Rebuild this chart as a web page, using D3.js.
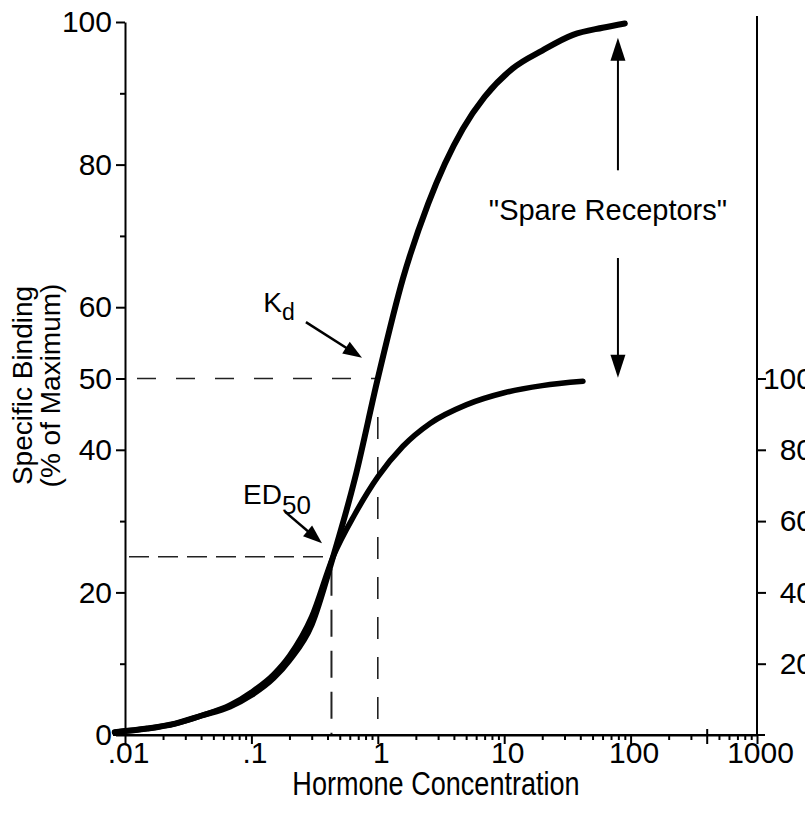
<!DOCTYPE html>
<html>
<head>
<meta charset="utf-8">
<script src="https://cdn.jsdelivr.net/npm/d3@7"></script>
<style>
  html, body { margin: 0; padding: 0; background: #fff; }
  svg { display: block; }
  text { font-family: "Liberation Sans", Arial, Helvetica, sans-serif; fill: #000; }
</style>
</head>
<body>
<script>
// ---------------- data ----------------
// Specific binding curve (% of maximum), Kd = 1
const bindingConc   = [0.0083, 0.015, 0.025, 0.04, 0.068, 0.1, 0.15, 0.2, 0.3, 0.443, 0.66, 1.0, 1.58, 2.5, 4.7, 7, 11.7, 20, 35, 60, 90];
const bindingValues = [0.4, 0.9, 1.6, 2.7, 4.0, 5.6, 8.0, 10.5, 15.5, 25, 36, 50, 64, 74.5, 85, 89.5, 93.5, 96, 98.2, 99.2, 99.8];

// Biological response curve (right axis, % of maximal response)
const responseConc   = [0.0083, 0.015, 0.025, 0.04, 0.068, 0.1, 0.15, 0.2, 0.3, 0.443, 0.66, 1.0, 1.58, 2.59, 5, 10, 20, 42];
const responseValues = [0.8, 1.8, 3.2, 5.4, 8.4, 12, 17.0, 22.2, 33.2, 50, 62, 72.4, 81, 87.4, 92.6, 96, 98, 99.2];

// axis ticks
const xTickValues = [0.01, 0.1, 1, 10, 100, 1000];
const xTickLabels = [".01", ".1", "1", "10", "100", "1000"];
const yTickValues = [0, 20, 40, 50, 60, 80, 100];
const yMinorTicks = [10, 30, 70, 90];
const rightTickValues = [20, 40, 60, 80, 100];

// reference markers
const kd = 1, kdLevel = 50;
const ed50 = 0.43, ed50Level = 25;

// ---------------- chart ----------------
const W = 805, H = 828;
const svg = d3.select("body").append("svg").attr("width", W).attr("height", H);
svg.append("rect").attr("width", W).attr("height", H).attr("fill", "#fff");

const x = d3.scaleLog().domain([0.01, 1000]).range([125, 757]);
const y = d3.scaleLinear().domain([0, 100]).range([735, 22]);
const yR = d3.scaleLinear().domain([0, 100]).range([y(0), y(50)]);

function narrow(sel, f) {
  sel.each(function () {
    const L = this.getComputedTextLength();
    this.setAttribute("textLength", L * f);
    this.setAttribute("lengthAdjust", "spacingAndGlyphs");
  });
}

// dashed reference lines
const dash = svg.append("g").attr("stroke", "#222").attr("fill", "none");
dash.append("line")
  .attr("x1", x(0.01)).attr("x2", x(kd)).attr("y1", y(kdLevel)).attr("y2", y(kdLevel))
  .attr("stroke-width", 1.6).attr("stroke-dasharray", "19,20").attr("stroke-dashoffset", -12);
dash.append("line")
  .attr("x1", x(kd)).attr("x2", x(kd)).attr("y1", y(44.6)).attr("y2", y(0))
  .attr("stroke-width", 1.6).attr("stroke-dasharray", "22,18");
dash.append("line")
  .attr("x1", x(0.01)).attr("x2", x(ed50)).attr("y1", y(ed50Level)).attr("y2", y(ed50Level))
  .attr("stroke-width", 1.6).attr("stroke-dasharray", "20,9").attr("stroke-dashoffset", -4);
dash.append("line")
  .attr("x1", x(ed50)).attr("x2", x(ed50)).attr("y1", y(ed50Level)).attr("y2", y(0))
  .attr("stroke-width", 2).attr("stroke-dasharray", "27,14").attr("stroke-dashoffset", -12);

// axes
const tickFont = 30;
function styleAxis(g) {
  g.selectAll(".domain").attr("stroke", "#000").attr("stroke-width", 2);
  g.selectAll(".tick line").attr("stroke", "#000").attr("stroke-width", 2);
  g.selectAll(".tick text").attr("font-size", tickFont).attr("font-family", "Liberation Sans, Arial, sans-serif").attr("fill", "#000");
}

// left axis
const gL = svg.append("g").attr("transform", `translate(${x(0.01)},0)`)
  .call(d3.axisLeft(y).tickValues(yTickValues).tickSize(9).tickSizeOuter(0).tickPadding(4));
styleAxis(gL);
const gLm = svg.append("g").attr("transform", `translate(${x(0.01)},0)`)
  .call(d3.axisLeft(y).tickValues(yMinorTicks).tickSize(5).tickFormat(""));
gLm.select(".domain").remove();
styleAxis(gLm);

// bottom axis
const gB = svg.append("g").attr("transform", `translate(0,${y(0)})`)
  .call(d3.axisBottom(x).tickValues(xTickValues).tickFormat((d, i) => xTickLabels[i]).tickSize(9).tickSizeOuter(0).tickPadding(-2));
styleAxis(gB);
gB.selectAll(".tick text").attr("dx", 3);
const minorX = [];
xTickValues.slice(0, -1).forEach(d => { for (let k = 2; k <= 9; k++) minorX.push(d * k); });
const gBm = svg.append("g").attr("transform", `translate(0,${y(0)})`)
  .call(d3.axisBottom(x).tickValues(minorX).tickSize(5).tickFormat(""));
gBm.select(".domain").remove();
styleAxis(gBm);
gBm.selectAll(".tick").filter(d => d === 400).select("line").attr("y1", -6).attr("y2", 9);
// axis line extensions
svg.append("line").attr("x1", x(0.01) - 12).attr("x2", x(1000) + 8)
  .attr("y1", y(0)).attr("y2", y(0)).attr("stroke", "#000").attr("stroke-width", 2);

// right axis
const gR = svg.append("g").attr("transform", `translate(${x(1000)},0)`)
  .call(d3.axisRight(yR).tickValues(rightTickValues).tickSize(9).tickSizeOuter(0));
gR.select(".domain").remove();
styleAxis(gR);
gR.selectAll(".tick text").attr("text-anchor", "end").attr("x", 56);
svg.append("line").attr("x1", x(1000)).attr("x2", x(1000))
  .attr("y1", y(100) - 6).attr("y2", y(0)).attr("stroke", "#000").attr("stroke-width", 2);

// curves
const line = d3.line().x(d => x(d[0])).y(d => d[1]).curve(d3.curveMonotoneX);
svg.append("path")
  .attr("d", line(responseConc.map((c, i) => [c, yR(responseValues[i])])))
  .attr("fill", "none").attr("stroke", "#000").attr("stroke-width", 5.5).attr("stroke-linecap", "round");
svg.append("path")
  .attr("d", line(bindingConc.map((c, i) => [c, y(bindingValues[i])])))
  .attr("fill", "none").attr("stroke", "#000").attr("stroke-width", 6).attr("stroke-linecap", "round");

// arrows
function arrow(x1, y1, x2, y2, len, wid, sw) {
  const dx = x2 - x1, dy = y2 - y1, L = Math.hypot(dx, dy);
  const ux = dx / L, uy = dy / L;
  const bx = x2 - ux * len, by = y2 - uy * len;
  svg.append("line").attr("x1", x1).attr("y1", y1).attr("x2", bx + ux * 2).attr("y2", by + uy * 2)
    .attr("stroke", "#000").attr("stroke-width", sw);
  svg.append("polygon")
    .attr("points", [[x2, y2], [bx - uy * wid / 2, by + ux * wid / 2], [bx + uy * wid / 2, by - ux * wid / 2]].map(p => p.join(",")).join(" "))
    .attr("fill", "#000");
}
// Kd arrow
arrow(x(0.27), y(57.9), x(0.75), y(52.9), 19, 14, 2.5);
// ED50 arrow
arrow(x(0.185), y(31.3), x(0.362), y(26.9), 19, 14, 2.5);
// spare receptors double arrow
arrow(x(79.4), y(79.2), x(79.4), y(97.8), 23, 15, 2);
arrow(x(79.4), y(66.9), x(79.4), y(50.1), 23, 15, 2);

// labels
const kdT = svg.append("text").attr("x", x(0.124)).attr("y", y(59.3)).attr("font-size", 28);
kdT.append("tspan").text("K");
kdT.append("tspan").attr("dy", 8).attr("font-size", 23).text("d");

const edT = svg.append("text").attr("x", x(0.086)).attr("y", y(32.4)).attr("font-size", 28);
edT.append("tspan").text("ED");
edT.append("tspan").attr("dy", 10).attr("font-size", 26).text("50");

svg.append("text").attr("x", x(66.2)).attr("y", y(72.2)).attr("text-anchor", "middle")
  .attr("font-size", 29).text("\"Spare Receptors\"");

// axis titles
const xt = svg.append("text").attr("x", (x(0.01) + x(1000)) / 2 - 5).attr("y", 795)
  .attr("text-anchor", "middle").attr("font-size", 33).text("Hormone Concentration");
narrow(xt, 0.82);

const yt = svg.append("text").attr("transform", `translate(0,${(y(0) + y(100)) / 2 + 7}) rotate(-90)`)
  .attr("text-anchor", "middle").attr("font-size", 28);
yt.append("tspan").attr("x", 0).attr("y", 32).text("Specific Binding");
yt.append("tspan").attr("x", 0).attr("y", 60).text("(% of Maximum)");
</script>
</body>
</html>
